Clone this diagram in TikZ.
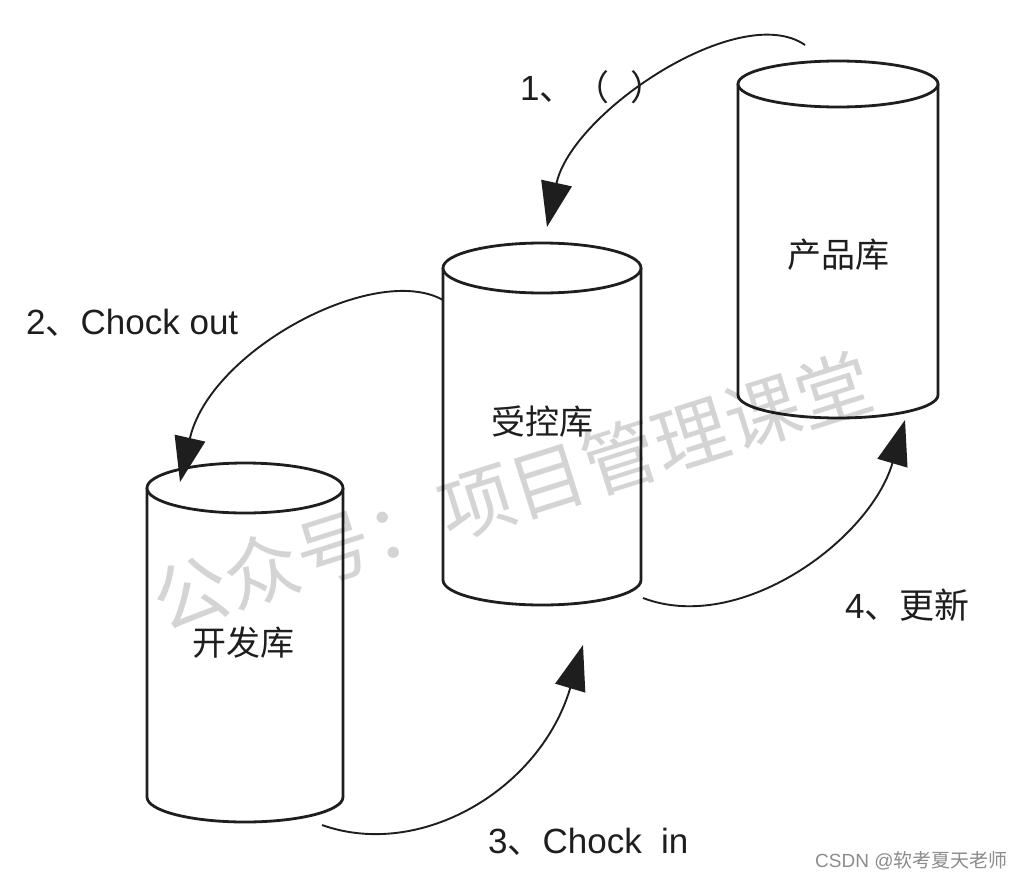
\documentclass[tikz,border=0pt]{standalone}
\usepackage{fontspec}
\setmainfont{Liberation Sans}
\newfontfamily\cjk{Noto Sans CJK SC}
\usetikzlibrary{arrows.meta}
\definecolor{inkc}{RGB}{30,30,30}
\definecolor{csdngray}{RGB}{140,140,140}
\begin{document}
\begin{tikzpicture}[x=1pt,y=1pt,
  cyl/.style={draw=inkc, line width=2.8pt, fill=white},
  conn/.style={draw=inkc, line width=1.9pt, -{Triangle[length=45pt,width=31pt]}},
  dblabel/.style={font=\cjk\fontsize{34}{40}\selectfont, text=inkc, inner sep=0pt},
  steplabel/.style={font=\fontsize{35}{42}\selectfont, text=inkc, inner sep=0pt, anchor=base west},
  wmark/.style={font=\cjk\fontsize{75}{80}\selectfont, text=black, text opacity=0.17, inner sep=0pt},
  credit/.style={font=\fontsize{19}{22}\selectfont, text=csdngray, anchor=base west, inner sep=0pt}
]
\fill[white] (0,0) rectangle (1024,-880);
\useasboundingbox (0,0) rectangle (1024,-880);

% cylinder 开发库
\draw[cyl] (147,-488) -- (147,-797) arc[start angle=180,end angle=360,x radius=98pt,y radius=25pt] -- (343,-488);
\draw[cyl] (245,-488) ellipse[x radius=98pt, y radius=25pt];
% cylinder 受控库
\draw[cyl] (443,-268) -- (443,-580) arc[start angle=180,end angle=360,x radius=99pt,y radius=25pt] -- (641,-268);
\draw[cyl] (542,-268) ellipse[x radius=99pt, y radius=25pt];
% cylinder 产品库
\draw[cyl] (738,-84) -- (738,-395) arc[start angle=180,end angle=360,x radius=100pt,y radius=23pt] -- (938,-84);
\draw[cyl] (838,-84) ellipse[x radius=100pt, y radius=23pt];

\node[dblabel] (kf) at (243,-643) {开发库};
\node[dblabel] (sk) at (542,-422) {受控库};
\node[dblabel] (cp) at (838,-255) {产品库};

% connector end points
\coordinate (a1s) at (805,-45);  \coordinate (a1e) at (547,-227);
\coordinate (a2s) at (443,-300); \coordinate (a2e) at (180,-482);
\coordinate (a3s) at (322,-825); \coordinate (a3e) at (583,-645);
\coordinate (a4s) at (643,-598); \coordinate (a4e) at (905,-420);

\draw[conn] (a1s) .. controls (740,0) and (572,-112) .. (a1e);
\draw[conn] (a2s) .. controls (375,-262) and (210,-350) .. (a2e);
\draw[conn] (a3s) .. controls (420,-860) and (540,-790) .. (a3e);
\draw[conn] (a4s) .. controls (740,-635) and (870,-540) .. (a4e);

\node[steplabel] (l1) at (520,-100) {1{\cjk 、（}\hspace{0.6em}{\cjk ）}};
\node[steplabel] (l2) at (26,-334) {2{\cjk 、}Chock out};
\node[steplabel] (l3) at (488,-853) {3{\cjk 、}Chock\hspace{0.55em}in};
\node[steplabel] (l4) at (845,-618) {4{\cjk 、更新}};

\node[wmark, rotate=17.5] (wm) at (512,-491) {公众号：项目管理课堂};
\node[credit] (csdn) at (815,-867) {CSDN @{\cjk 软考夏天老师}};
\end{tikzpicture}
\end{document}
